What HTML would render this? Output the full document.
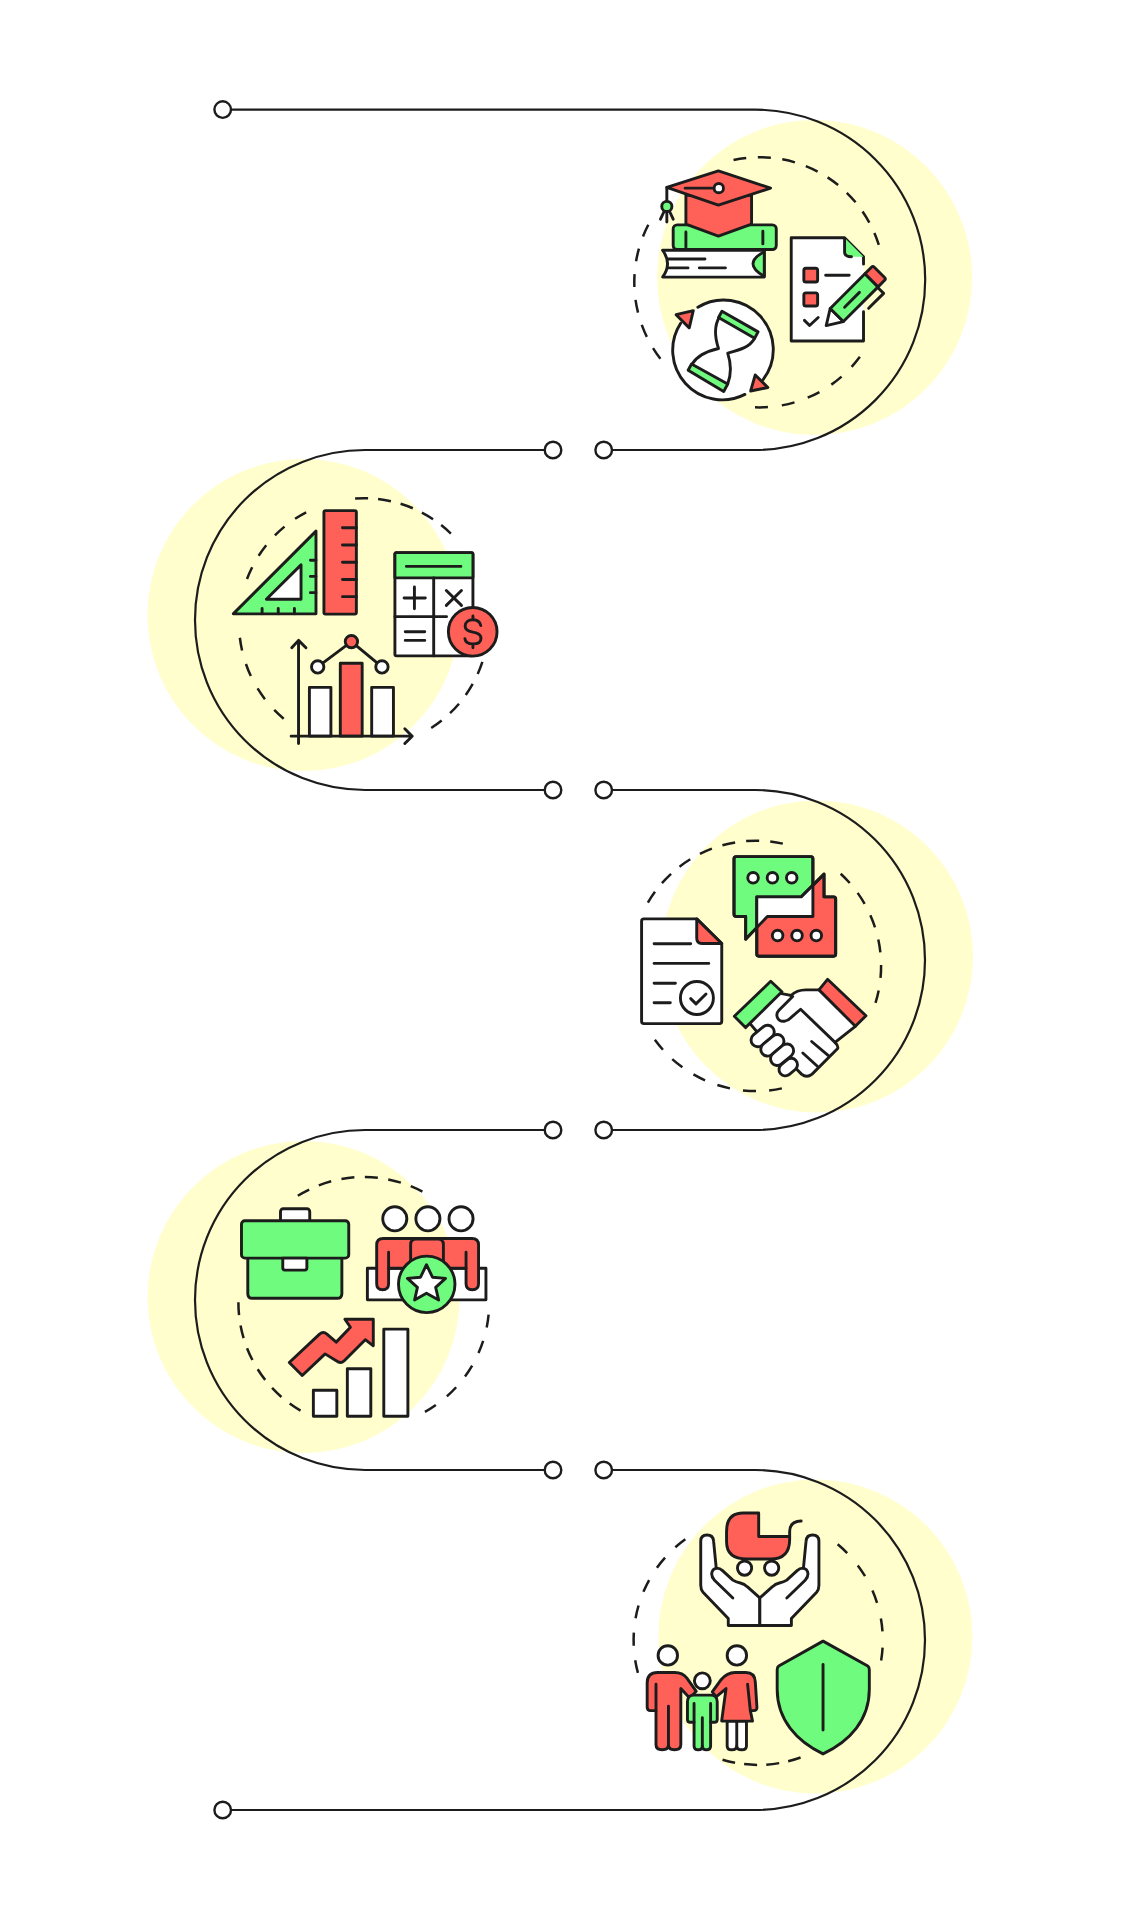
<!DOCTYPE html>
<html><head><meta charset="utf-8"><style>
html,body{margin:0;padding:0;background:#fff;width:1133px;height:1920px;overflow:hidden;font-family:"Liberation Sans",sans-serif;}
svg{display:block;position:absolute;left:0;top:0;}
.k{stroke:#1C1C1C;stroke-linejoin:round;stroke-linecap:round;stroke-width:2.9px}
.k path,.k rect,.k circle,.k ellipse,.k polygon,.k line{vector-effect:non-scaling-stroke}
.r{fill:#FF6058}.g{fill:#6FFB7E}.w{fill:#fff}.n{fill:none}
</style></head><body>
<svg width="1133" height="1920" viewBox="0 0 1133 1920">
<g id="blobs" fill="#FFFECC">
<circle cx="814.6" cy="277.5" r="157.5"/>
<circle cx="303.5" cy="615" r="156"/>
<circle cx="817" cy="956.5" r="156"/>
<circle cx="303.6" cy="1297" r="156"/>
<circle cx="815.4" cy="1636.5" r="157"/>
</g>
<g id="track" fill="none" stroke="#1C1C1C" stroke-width="2.2">
<path d="M222.7 109.6H755A170.2 170.2 0 0 1 755 450H603.7"/>
<path d="M553 450H365A170 170 0 0 0 365 790H553"/>
<path d="M603.7 790H755A170 170 0 0 1 755 1130H603.7"/>
<path d="M553 1130H365A170 170 0 0 0 365 1470H553"/>
<path d="M603.7 1470H755A170 170 0 0 1 755 1810H222.7"/>
</g>
<g id="nodes" fill="#fff" stroke="#1C1C1C" stroke-width="2.4">
<circle cx="222.7" cy="109.6" r="8.3"/>
<circle cx="553" cy="450" r="8.3"/><circle cx="603.7" cy="450" r="8.3"/>
<circle cx="553" cy="790" r="8.3"/><circle cx="603.7" cy="790" r="8.3"/>
<circle cx="553" cy="1130" r="8.3"/><circle cx="603.7" cy="1130" r="8.3"/>
<circle cx="553" cy="1470" r="8.3"/><circle cx="603.7" cy="1470" r="8.3"/>
<circle cx="222.7" cy="1810" r="8.3"/>
</g>
<g id="dashes" fill="none" stroke="#1C1C1C" stroke-width="2.5">
<path d="M733.52 159.91A125.1 125.1 0 0 1 878.80 244.98" stroke-dasharray="13.0 11.526"/><path d="M859.89 356.82A125.1 125.1 0 0 1 755.01 407.32" stroke-dasharray="13.0 14.018"/><path d="M660.39 358.76A125.1 125.1 0 0 1 648.31 224.77" stroke-dasharray="13.0 12.808"/><path d="M482.38 661.92A124.8 124.8 0 0 1 431.22 728.02" stroke-dasharray="13.0 11.077"/><path d="M283.69 718.69A124.8 124.8 0 0 1 239.88 637.76" stroke-dasharray="13.0 14.087"/><path d="M246.99 579.06A124.8 124.8 0 0 1 306.15 512.31" stroke-dasharray="13.0 13.068"/><path d="M355.11 498.50A124.8 124.8 0 0 1 450.90 533.62" stroke-dasharray="13.0 10.024"/><path d="M647.88 902.60A125.2 125.2 0 0 1 782.83 843.63" stroke-dasharray="13.0 11.073"/><path d="M840.67 873.77A125.2 125.2 0 0 1 875.51 1002.91" stroke-dasharray="13.0 12.621"/><path d="M781.91 1088.37A125.2 125.2 0 0 1 654.85 1039.82" stroke-dasharray="13.0 13.160"/><path d="M297.82 1195.76A125.4 125.4 0 0 1 422.41 1191.54" stroke-dasharray="13.0 10.495"/><path d="M300.53 1410.67A125.4 125.4 0 0 1 238.40 1302.20" stroke-dasharray="13.0 10.573"/><path d="M488.61 1314.54A125.4 125.4 0 0 1 424.94 1411.89" stroke-dasharray="13.0 13.989"/><path d="M637.92 1672.83A124.6 124.6 0 0 1 685.31 1539.24" stroke-dasharray="13.0 14.556"/><path d="M837.65 1544.32A124.6 124.6 0 0 1 881.16 1660.46" stroke-dasharray="13.0 16.205"/><path d="M800.57 1757.47A124.6 124.6 0 0 1 722.54 1759.69" stroke-dasharray="13.0 9.132"/>
</g>
<!-- S1 cap & books: zoom [640,150] s=7.08125 -->
<g transform="translate(640 150) scale(0.141218)" class="k">
<rect x="235" y="530" width="730" height="175" rx="28" class="g"/>
<path d="M325 580V690M870 575V665" class="n"/>
<path d="M160 710H880V900H160Q230 805 160 710Z" class="w"/>
<path d="M880 720Q720 805 880 895Z" class="g"/>
<path d="M200 772H460M200 835H340M420 835H605" class="n"/>
<path d="M325 320V525L555 610L790 525V320Z" class="r"/>
<path d="M190 265L555 148L925 270L555 390Z" class="r"/>
<path d="M320 270H520" class="n"/>
<circle cx="558" cy="270" r="33" class="w"/>
<path d="M190 265V370M172 432L145 490M190 440V510M208 432L235 490" class="n"/>
<circle cx="190" cy="400" r="36" class="g"/>
</g>
<!-- S1 doc & pencil: zoom [770,220] s=8.71538 -->
<g transform="translate(770 220) scale(0.11474)" class="k">
<path d="M185 155H650L815 320V1055H185Z" class="w" stroke="none"/>
<path d="M815 385V320L650 155H185V1055H815V800" class="n"/>
<path d="M650 155L815 320H705Q650 320 650 280Z" class="g" stroke="none"/>
<path d="M650 160V280Q650 320 710 320" class="n"/>
<rect x="295" y="420" width="120" height="120" rx="18" class="r"/>
<rect x="295" y="635" width="120" height="115" rx="18" class="r"/>
<path d="M485 482H690M300 875L345 920L420 850" class="n"/>
</g>
<g transform="translate(826.2 325.6) rotate(-45)" class="k">
<path d="M0 0L15 -9.3V9.3Z" class="w"/>
<rect x="15" y="-9.3" width="49.1" height="18.6" class="g"/>
<path d="M64.1 -9.3H73.3Q75.3 -9.3 75.3 -7.3V7.3Q75.3 9.3 73.3 9.3H64.1Z" class="r"/>
<path d="M26 0H47M63.4 9.8V17.8H42.2" class="n"/>
</g>
<!-- S1 hourglass: zoom [660,290] s=8.71538 -->
<g transform="translate(660 290) scale(0.11474)" class="k">
<circle cx="547.5" cy="527.5" r="432.5" class="w" stroke="none"/>
<path d="M330 150A432.5 432.5 0 0 1 900 780M740 910A432.5 432.5 0 0 1 180 290" class="n"/>
<path d="M140 215L290 180L255 330Z" class="r"/>
<path d="M830 740L940 850L790 880Z" class="r"/>
<path d="M515 240C470 320 480 420 510 510C400 535 320 580 280 645" class="n"/>
<path d="M825 420C780 500 700 520 590 550C620 640 620 740 590 820" class="n"/>
<path d="M540 185L855 365L825 420L510 240Z" class="g"/>
<path d="M245 700L275 645L590 820L555 885Z" class="g"/>
</g>

<!-- S2 set square & ruler: zoom [220,500] s=7.55333 -->
<g transform="translate(220 500) scale(0.132392)" class="k">
<path d="M100 860L725 235V860Z" class="g"/>
<path d="M350 750L612 490V750Z" class="w"/>
<path d="M683 455H725M683 577H725M683 700H725M318 820V860M440 820V860M562 820V860" class="n"/>
<rect x="785" y="80" width="245" height="782" rx="12" class="r"/>
<path d="M925 210H1030M925 340H1030M925 470H1030M925 600H1030M925 730H1030" class="n"/>
</g>
<!-- S2 calculator: zoom [380,540] s=8.71538 -->
<g transform="translate(380 540) scale(0.11474)" class="k">
<rect x="130" y="110" width="680" height="900" rx="14" class="w"/>
<path d="M130 330V124Q130 110 144 110H796Q810 110 810 124V330Z" class="g"/>
<path d="M230 230H705M468 330V1010M130 668H580M300 410V600M210 505H395M578 440L710 570M710 440L578 570M220 800H390M220 875H390" class="n"/>
<circle cx="808" cy="800" r="212" class="r"/>
<path d="M878 745C870 708 842 695 810 695C772 695 742 715 742 752C742 790 780 798 810 803C845 808 880 822 880 858C880 893 850 905 810 905C775 905 745 892 740 860M810 662V695M810 905V940" class="n"/>
</g>
<!-- S2 chart: zoom [280,620] s=8.09286 -->
<g transform="translate(280 620) scale(0.123566)" class="k">
<rect x="238" y="545" width="174" height="395" class="w"/>
<rect x="488" y="350" width="177" height="590" class="r"/>
<rect x="742" y="545" width="176" height="395" class="w"/>
<path d="M150 165V1000M95 225L150 165L210 225M90 940H1070M1010 880L1070 940L1010 1000M305 380L578 175L825 380" class="n"/>
<circle cx="305" cy="380" r="50" class="w"/>
<circle cx="578" cy="175" r="50" class="r"/>
<circle cx="825" cy="380" r="50" class="w"/>
</g>

<!-- S3 chat: zoom [725,845] s=9.4417 -->
<defs><clipPath id="cg"><path d="M85 110H830V675H400L195 890V675H85Z" transform="translate(725 845) scale(0.105913)"/></clipPath></defs>
<g transform="translate(725 845) scale(0.105913)" class="k">
<path d="M85 130Q85 110 105 110H810Q830 110 830 130V675H400L195 890V675H105Q85 675 85 655Z" class="g"/>
<path d="M300 490H720L935 275V490H1025Q1045 490 1045 510V1030Q1045 1050 1025 1050H320Q300 1050 300 1030Z" class="r"/>
</g>
<g clip-path="url(#cg)"><path d="M300 490H720L935 275V490H1025Q1045 490 1045 510V1030Q1045 1050 1025 1050H320Q300 1050 300 1030Z" transform="translate(725 845) scale(0.105913)" fill="#fff"/></g>
<g transform="translate(725 845) scale(0.105913)" class="k">
<path d="M85 130Q85 110 105 110H810Q830 110 830 130V675H400L195 890V675H105Q85 675 85 655Z" class="n"/>
<path d="M300 490H720L935 275V490H1025Q1045 490 1045 510V1030Q1045 1050 1025 1050H320Q300 1050 300 1030Z" class="n"/>
<circle cx="265" cy="310" r="50" class="w"/><circle cx="448" cy="310" r="50" class="w"/><circle cx="630" cy="310" r="50" class="w"/>
<circle cx="497" cy="855" r="50" class="w"/><circle cx="680" cy="855" r="50" class="w"/><circle cx="862" cy="855" r="50" class="w"/>
</g>
<!-- S3 doc: zoom [630,905] s=10.79 -->
<g transform="translate(630 905) scale(0.092678)" class="k">
<path d="M150 150H720L990 415V1255Q990 1280 965 1280H150Q125 1280 125 1255V175Q125 150 150 150Z" class="w"/>
<path d="M720 150L990 415H775Q720 415 720 360Z" class="r"/>
<path d="M260 418H655M260 630H850M260 845H490M260 1055H435M655 1010L712 1067L820 960" class="n"/>
<circle cx="722" cy="1003" r="178" class="n"/>
</g>
<!-- S3 handshake: zoom [745,985] s=11.33 -->
<g transform="translate(745 985) scale(0.088261)" class="k">
<path d="M60 440L400 95L520 118L640 300L560 950L140 535Z" class="w" stroke="none"/>
<path d="M60 440L140 535M400 95L520 118" class="n"/>
<path d="M520 120C560 80 610 55 690 55H838L1250 468L1020 650Q1060 690 1050 720L760 1010Q700 1060 640 1010L470 850Z" class="w" stroke="none"/>
<path d="M520 120C560 80 610 55 690 55H838M1250 468L1020 650Q1060 690 1050 720L760 1010Q700 1060 640 1010L580 950" class="n"/>
<path d="M540 130L385 285C340 330 360 420 450 410C480 405 500 390 520 370L630 275L1020 650" class="w"/>
<path d="M755 640L945 800M655 770L820 920" class="n"/>
<path d="M-121 354.6L291.5 -42L418.4 77L5.7 482.6Z" class="g"/>
<path d="M838 55.5L935.4 -64.6L1370.6 347.8L1250.5 467.7Z" class="r"/>
<rect x="-148" y="-76" width="296" height="152" rx="76" transform="translate(200 578) rotate(-40)" class="w"/>
<rect x="-148" y="-76" width="296" height="152" rx="76" transform="translate(310 683) rotate(-40)" class="w"/>
<rect x="-148" y="-76" width="296" height="152" rx="76" transform="translate(420 790) rotate(-40)" class="w"/>
<rect x="-115" y="-72" width="230" height="144" rx="72" transform="translate(490 930) rotate(-40)" class="w"/>
</g>

<!-- S4 briefcase: zoom [230,1195] s=8.715 -->
<g transform="translate(230 1195) scale(0.11474)" class="k">
<rect x="440" y="120" width="255" height="160" rx="25" class="w"/>
<path d="M155 520V860Q155 900 195 900H935Q975 900 975 860V520Z" class="g"/>
<rect x="100" y="225" width="935" height="325" rx="30" class="g"/>
<path d="M460 550V635Q460 655 480 655H650Q670 655 670 635V550Z" class="w"/>
</g>
<!-- S4 team: zoom [360,1195] s=8.3926 -->
<g transform="translate(360 1195) scale(0.119153)" class="k">
<circle cx="292" cy="200" r="101" class="w"/><circle cx="570" cy="200" r="101" class="w"/><circle cx="848" cy="200" r="101" class="w"/>
<rect x="62" y="615" width="995" height="265" class="w"/>
<path d="M140 420Q140 365 195 365H940Q995 365 995 420V745Q995 795 942 795Q890 795 890 745V615H240V745Q240 795 190 795Q140 795 140 745Z" class="r"/>
<path d="M240 480V615M890 480V615M425 615V415Q425 370 470 370H655Q700 370 700 415V615" class="n"/>
<circle cx="560" cy="750" r="237" class="g"/>
<path d="M558 585L608 690L718 700L635 775L660 882L558 825L458 882L482 775L398 700L508 690Z" class="w"/>
</g>
<!-- S4 growth: zoom [280,1310] s=8.093 -->
<g transform="translate(280 1310) scale(0.123566)" class="k">
<rect x="270" y="650" width="190" height="210" class="w"/>
<rect x="545" y="475" width="190" height="385" class="w"/>
<rect x="840" y="155" width="195" height="705" class="w"/>
<path d="M75 425L320 195Q350 170 380 195L455 260L570 140L525 75H755V290L690 240L520 410Q490 440 455 410L365 355L180 530Z" class="r"/>
</g>

<!-- S5 hands & stroller: zoom [695,1505] s=8.715 -->
<g transform="translate(695 1505) scale(0.11474)" class="k">
<path d="M555 70H420Q275 70 275 230V320Q275 470 450 470H660Q825 470 825 300V275H555Z" class="r"/>
<path d="M825 275V230Q825 145 925 140" class="n"/>
<circle cx="432" cy="550" r="62" class="w"/><circle cx="668" cy="550" r="62" class="w"/>
<g id="lh">
<path d="M565 1050H290V990L70 760Q50 738 50 700V315Q50 262 105 262Q158 262 162 315L185 550Q215 548 240 572L330 655Q355 672 395 680Q430 688 455 712L565 810V1050Z" class="w"/>
<path d="M190 550Q150 555 145 600Q145 630 170 655L330 810" class="n"/>
</g>
<g transform="translate(1130 0) scale(-1 1)">
<path d="M565 1050H290V990L70 760Q50 738 50 700V315Q50 262 105 262Q158 262 162 315L185 550Q215 548 240 572L330 655Q355 672 395 680Q430 688 455 712L565 810V1050Z" class="w"/>
<path d="M190 550Q150 555 145 600Q145 630 170 655L330 810" class="n"/>
</g>
</g>
<!-- S5 family: zoom [640,1640] s=9.064 -->
<g transform="translate(640 1640) scale(0.110327)" class="k">
<circle cx="252" cy="140" r="88" class="w"/><circle cx="878" cy="140" r="88" class="w"/><circle cx="565" cy="370" r="72" class="w"/>
<path d="M65 390Q65 295 160 295H315Q385 295 425 345L510 465L450 525L370 440V950Q370 995 312 995Q258 995 258 950Q258 995 202 995Q145 995 145 950V640H95Q65 640 65 610Z" class="r"/>
<path d="M145 400V640M258 600V950" class="n"/>
<path d="M790 735V960Q790 995 830 995Q877 995 877 960Q877 995 922 995Q965 995 965 960V735Z" class="w"/>
<path d="M877 745V960" class="n"/>
<path d="M655 470L735 360Q790 295 860 295H960Q1040 295 1045 380L1060 610Q1062 640 1030 640H1000L1020 735H740L780 440L690 515Z" class="r"/>
<path d="M975 400L1000 640" class="n"/>
<path d="M430 560Q430 500 490 500H640Q700 500 700 560V720Q700 745 675 745H640V960Q640 995 602 995Q565 995 565 960Q565 995 528 995Q490 995 490 960V745H455Q430 745 430 720Z" class="g"/>
<path d="M490 575V745M640 575V745M565 705V960" class="n"/>
</g>
<!-- S5 shield: zoom [765,1630] s=9.4417 -->
<g transform="translate(765 1630) scale(0.105913)" class="k">
<path d="M548 105L970 340Q985 350 985 375V560C985 850 800 1050 548 1170C300 1050 115 850 115 560V375Q115 350 130 340Z" class="g"/>
<path d="M548 325V945" class="n"/>
</g>


</svg>
</body></html>
